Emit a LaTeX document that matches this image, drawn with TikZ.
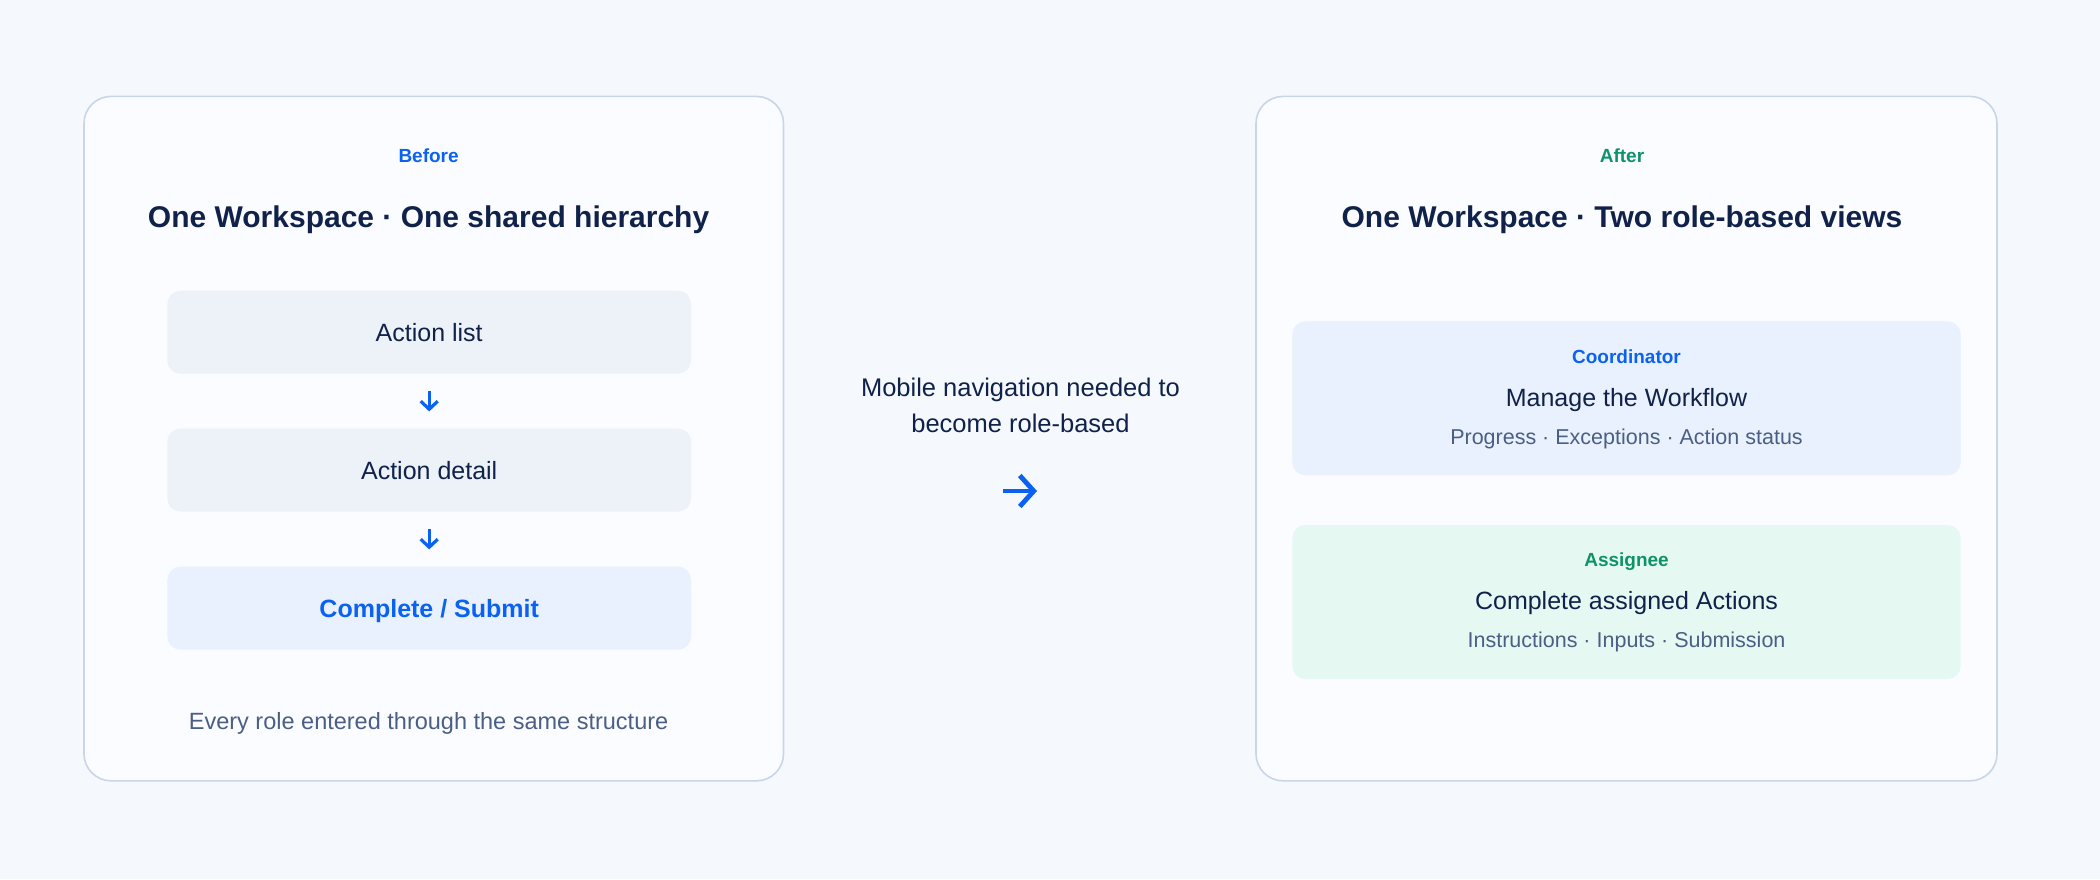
\documentclass[tikz,border=0pt]{standalone}
\usepackage{fontspec}
\setmainfont{Liberation Sans}
\usetikzlibrary{arrows.meta}
\definecolor{bg}{HTML}{F5F9FE}
\definecolor{panelfill}{HTML}{FAFCFF}
\definecolor{panelline}{HTML}{C8D6E8}
\definecolor{navy}{HTML}{10224A}
\definecolor{accentblue}{HTML}{0B62F0}
\definecolor{accentgreen}{HTML}{0C9468}
\definecolor{greytext}{HTML}{4B5F85}
\definecolor{stepfill}{HTML}{EDF2F9}
\definecolor{bluefill}{HTML}{E8F1FD}
\definecolor{greenfill}{HTML}{E6F8F2}
\newcommand{\fsz}[1]{\fontsize{#1}{#1}\selectfont}
\tikzset{
  panel/.style={draw=panelline, line width=1.6pt, fill=panelfill, rounded corners=27pt, inner sep=0pt},
  stepbox/.style={fill=stepfill, rounded corners=13pt, minimum width=523.6pt, minimum height=83pt, inner sep=0pt, text=navy, font=\fsz{25}, text height=18pt, text depth=0pt},
  rolebox/.style={rounded corners=13pt, minimum width=668.3pt, minimum height=154pt, inner sep=0pt},
  tag/.style={font=\bfseries\fsz{19}, inner sep=0pt, text height=13.7pt, text depth=0pt},
  headline/.style={font=\bfseries\fsz{30}, text=navy, inner sep=0pt, text height=21.5pt, text depth=0pt},
  bodytext/.style={font=\fsz{25}, text=navy, inner sep=0pt, text height=18pt, text depth=0pt},
  subtext/.style={font=\fsz{21.5}, text=greytext, inner sep=0pt, text height=15.5pt, text depth=0pt},
  flowarrow/.style={draw=accentblue, line width=3.2pt, -{Straight Barb[length=8pt, width=17pt, line width=3.2pt]}},
  bigarrow/.style={draw=accentblue, line width=4.8pt, -{Straight Barb[length=14pt, width=31pt, line width=4.8pt]}}
}
\begin{document}
\begin{tikzpicture}[x=1pt, y=-1pt]
\fill[bg] (0,0) rectangle (2100,879);
\useasboundingbox (0,0) rectangle (2100,879);

% Before panel
\node[panel, minimum width=699.5pt, minimum height=684.4pt] (left) at (433.75,438.6) {};
\node[tag, text=accentblue] (before) at (428.6,155.4) {Before};
\node[headline] (ltitle) at (428.6,217) {One Workspace · One shared hierarchy};
\node[stepbox] (list) at (429.2,332.2) {Action list};
\node[stepbox] (detail) at (429.2,470.1) {Action detail};
\node[stepbox, fill=bluefill, text=accentblue, font=\bfseries\fsz{25}] (submit) at (429.2,608.1) {Complete / Submit};
\draw[flowarrow, shorten <=17pt, shorten >=17pt] (list.south) -- (detail.north);
\draw[flowarrow, shorten <=17pt, shorten >=17pt] (detail.south) -- (submit.north);
\node[subtext, font=\fsz{23.5}, text height=17pt] (foot) at (428.6,720.5) {Every role entered through the same structure};

% middle
\node[font=\fsz{25.5}, text=navy, align=center, inner sep=0pt] (mid) at (1020.5,405.5) {Mobile navigation needed to\\[10pt]become role-based};
\coordinate (ma) at (1003,491);
\coordinate (mb) at (1037,491);
\draw[bigarrow] (ma) -- (mb);

% After panel
\node[panel, minimum width=741pt, minimum height=684.4pt] (right) at (1626.5,438.6) {};
\node[tag, text=accentgreen] (after) at (1622,155.4) {After};
\node[headline] (rtitle) at (1622,217) {One Workspace · Two role-based views};

\node[rolebox, fill=bluefill] (coord) at (1626.5,398.4) {};
\node[tag, text=accentblue] (coordl) at (1626.5,356.3) {Coordinator};
\node[bodytext] (coordt) at (1626.5,397.8) {Manage the Workflow};
\node[subtext] (coords) at (1626.5,436.6) {Progress · Exceptions · Action status};

\node[rolebox, fill=greenfill] (assign) at (1626.5,602) {};
\node[tag, text=accentgreen] (assignl) at (1626.5,559.8) {Assignee};
\node[bodytext] (assignt) at (1626.5,600) {Complete assigned Actions};
\node[subtext] (assigns) at (1626.5,640) {Instructions · Inputs · Submission};
\end{tikzpicture}
\end{document}
